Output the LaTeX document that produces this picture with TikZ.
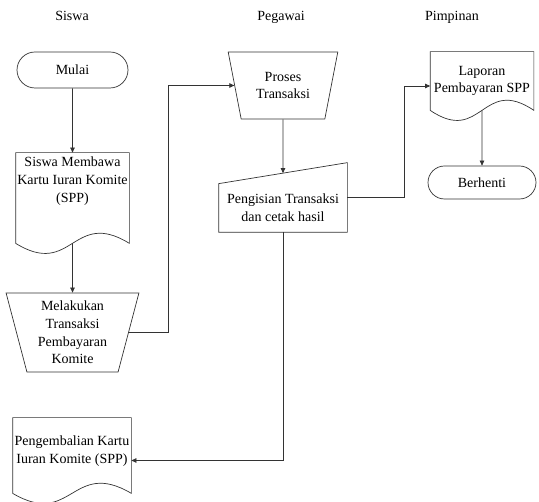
\documentclass[tikz,border=0pt]{standalone}
\usepackage{fontspec}
\setmainfont{Liberation Serif}
\usetikzlibrary{shapes.geometric,shapes.misc,arrows.meta,calc}

\begin{document}
\begin{tikzpicture}[x=1pt, y=-1pt, line width=0.7pt, draw=black!80, >={Triangle[length=5pt,width=4.5pt]},
  every node/.style={font=\fontsize{14}{17.8}\selectfont, align=center, inner sep=1pt},
  term/.style={rounded rectangle, draw},
  manual/.style={trapezium, shape border rotate=180, trapezium stretches=true, draw}]
\useasboundingbox (0,0) rectangle (539,502);

% kolom
\node (siswa) at (72,16) {Siswa};
\node (pegawai) at (281,17) {Pegawai};
\node (pimpinan) at (452,17) {Pimpinan};

% siswa
\node [term, minimum width=113pt, minimum height=36pt] (mulai) at (72.5,70) {Mulai};
\node [minimum width=113pt, minimum height=56pt] (bawa) at (72.5,181) {Siswa Membawa\\Kartu Iuran Komite\\(SPP)};
\node [manual, minimum width=133pt, minimum height=79pt, trapezium angle=76] (bayar) at (72.5,332.5) {Melakukan\\Transaksi\\Pembayaran\\Komite};
\node [minimum width=118pt, minimum height=66pt] (kembali) at (72,451) {Pengembalian Kartu\\Iuran Komite (SPP)};

% pegawai
\node [manual, minimum width=110pt, minimum height=67pt, trapezium angle=73.4] (proses) at (283,85.5) {Proses\\Transaksi};
\node [minimum width=128pt, minimum height=48pt] (isi) at (283,208) {Pengisian Transaksi\\dan cetak hasil};

% pimpinan
\node [minimum width=103pt, minimum height=58pt] (laporan) at (482,81) {Laporan\\Pembayaran SPP};
\node [term, minimum width=110pt, minimum height=33pt] (berhenti) at (482,182.5) {Berhenti};

% dokumen
\foreach \n/\t in {bawa/34, kembali/9, laporan/0}{
  \path ($(\n.south east)+(0,\t)$) coordinate (\n-se)
        ($(\n.south west)+(0,\t)$) coordinate (\n-sw)
        ($(\n-se)!.5!(\n-sw)$) coordinate (\n-b)
        ($(\n.north west)!.5!(\n-sw)+(0,5)$) coordinate (\n-l)
        ($(\n.north east)!.5!(\n-se)+(0,5)$) coordinate (\n-r);
  \draw (\n.north west) -- (\n.north east) -- (\n-se) .. controls ($(\n-b)+(0,-35)$) and ($(\n-b)+(0,35)$) .. (\n-sw) -- cycle;
}

% input manual
\path ($(isi.north east)+(0,-21)$) coordinate (isi-ne)
      ($(isi.north west)!.5!(isi-ne)$) coordinate (isi-t)
      ($(isi-ne)!.5!(isi.south east)$) coordinate (isi-r);
\draw (isi.south west) -- (isi.north west) -- (isi-ne) -- (isi.south east) -- cycle;

% alur
\draw [->] (mulai) -- (bawa);
\draw [->] (bawa-b) -- (bayar);
\draw [->] (bayar.east) -- ++(39,0) |- (proses.west);
\draw [->] (proses) -- (isi-t);
\draw [->] (isi-r) -- ++(57,0) |- (laporan-l);
\draw [->] (laporan-b) -- (berhenti);
\draw [->] (isi.south) |- (kembali-r);
\end{tikzpicture}
\end{document}
